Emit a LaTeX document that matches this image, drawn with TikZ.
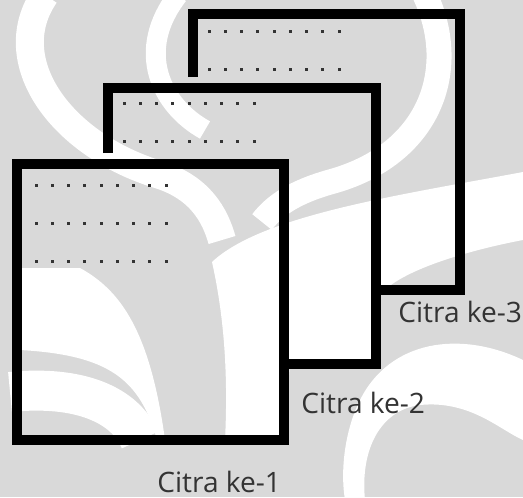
\documentclass[tikz,border=0pt]{standalone}
\usepackage{fontspec}
\setmainfont{Open Sans}
\usepackage{xcolor}
\definecolor{wmgray}{HTML}{D9D9D9}

\begin{document}
\begin{tikzpicture}[
    x=0.02cm, y=-0.02cm,
    frame/.style={line width=5.7pt, line join=miter},
    band/.style={white, line width=#1},
    band/.default=5mm,
    tag/.style={font=\fontsize{16}{19}\selectfont, text=black!80, inner sep=0pt, anchor=base west}
]

    % Background with watermark
    \fill[wmgray] (0,0) rectangle (523,497);
    \begin{scope}
    \clip (0,0) rectangle (523,497);
    \draw[band=5.6mm] (45,-5) .. controls (0,60) and (60,145) .. (160,175)
                             .. controls (200,188) and (215,215) .. (222,240);
    \draw[band=4mm] (178,-5) .. controls (135,50) and (160,105) .. (205,130);
    \draw[band] (425,-5) .. controls (460,70) and (430,155) .. (330,182)
                         .. controls (295,192) and (275,205) .. (262,222);
    \fill[white] (212,262) .. controls (262,215) and (400,195) .. (523,172)
                 -- (523,240) .. controls (470,250) and (400,270) .. (380,295)
                 -- (372,362) -- (290,362) -- (284,440) -- (225,440)
                 .. controls (228,380) and (225,320) .. (212,262) -- cycle;
    \fill[white] (20,268) -- (80,268) .. controls (120,290) and (150,330) .. (165,440)
                 -- (157,440) .. controls (140,380) and (110,355) .. (20,350) -- cycle;
    \draw[band=8mm] (10,392) .. controls (80,385) and (125,405) .. (140,440);
    \fill[white] (523,360) .. controls (460,330) and (390,340) .. (360,400)
                 .. controls (345,430) and (340,470) .. (345,500) -- (365,500)
                 .. controls (360,450) and (380,410) .. (420,405)
                 .. controls (470,400) and (500,430) .. (523,440) -- cycle;
    \end{scope}

    % Corners of the three images
    \coordinate (b1) at (17,164);
    \coordinate (b2) at (108,88);
    \coordinate (b3) at (193,14);

    % Frames (back ones only where they show)
    \draw[frame] (193,77) -- (b3) -- (460,14) -- (460,290) -- (381,290);
    \draw[frame] (108,153) -- (b2) -- (376,88) -- (376,364) -- (289,364);
    \draw[frame] (b1) rectangle (284,440);

    % Dotted rows
    \foreach \r in {21,59,97}
        \foreach \k in {0,...,8}
            \fill[black!80] ([shift={(19+16.25*\k,\r)}]b1) +(-1.5,-1.5) rectangle +(1.5,1.5);
    \foreach \r in {15,53}
        \foreach \k in {0,...,8}
            \fill[black!80] ([shift={(16+16.25*\k,\r)}]b2) +(-1.5,-1.5) rectangle +(1.5,1.5);
    \foreach \r in {17,55}
        \foreach \k in {0,...,8}
            \fill[black!80] ([shift={(16+16.25*\k,\r)}]b3) +(-1.5,-1.5) rectangle +(1.5,1.5);

    % Labels
    \node[tag] (ke3) at (398,322) {Citra ke-3};
    \node[tag] (ke2) at (301,413) {Citra ke-2};
    \node[tag] (ke1) at (157,492) {Citra ke-1};

\end{tikzpicture}
\end{document}
